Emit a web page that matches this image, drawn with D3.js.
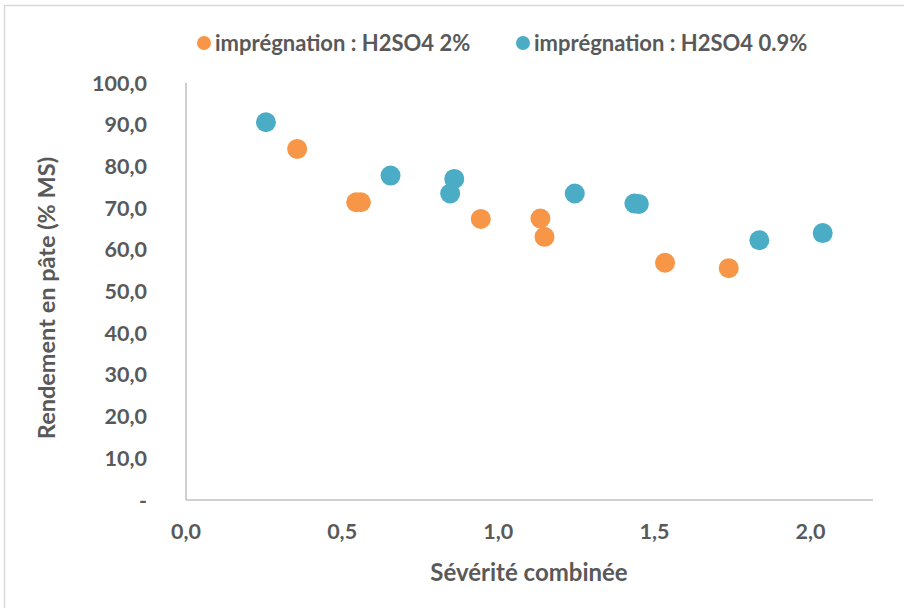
<!DOCTYPE html>
<html>
<head>
<meta charset="utf-8">
<script src="https://cdn.jsdelivr.net/npm/d3@7"></script>
<style>
  body { margin: 0; background: #fff; }
  text { font-family: Lato, "Open Sans", sans-serif; font-weight: bold; fill: #595959; }
</style>
</head>
<body>
<svg id="chart" width="904" height="608"></svg>
<script>
// series: combined severity (x) vs pulp yield % DM (y)
const seriesNames = ["imprégnation : H2SO4 2%", "imprégnation : H2SO4 0.9%"]
const seriesColors = ["#F79646", "#4BACC6"]

const acid2X = [0.356, 0.545, 0.560, 0.944, 1.135, 1.148, 1.534, 1.738]
const acid2Y = [84.2, 71.4, 71.4, 67.4, 67.5, 63.1, 56.9, 55.6]

const acid09X = [0.256, 0.655, 0.859, 0.846, 1.245, 1.436, 1.450, 1.836, 2.039]
const acid09Y = [90.6, 77.8, 77.0, 73.5, 73.5, 71.1, 71.0, 62.3, 64.0]

const xTicks = [0, 0.5, 1.0, 1.5, 2.0]
const yTicks = [0, 10, 20, 30, 40, 50, 60, 70, 80, 90, 100]

const svg = d3.select('#chart')

// outer frame
svg.append('rect')
    .attr('x', 4.5).attr('y', 5.5)
    .attr('width', 920).attr('height', 620)
    .attr('fill', 'none')
    .attr('stroke', '#D9D9D9')
    .attr('stroke-width', 1.5)

const plotLeft = 186, plotRight = 873, plotTop = 83, plotBottom = 500

const x = d3.scaleLinear().domain([0, 2.2]).range([plotLeft, plotRight])
const y = d3.scaleLinear().domain([0, 100]).range([plotBottom, plotTop])

const fmt = v => d3.format('.1f')(v).replace('.', ',')

// axes lines
svg.append('line')
    .attr('x1', plotLeft).attr('x2', plotLeft)
    .attr('y1', plotTop).attr('y2', plotBottom)
    .attr('stroke', '#BFBFBF').attr('stroke-width', 1.5)
svg.append('line')
    .attr('x1', plotLeft).attr('x2', plotRight)
    .attr('y1', plotBottom).attr('y2', plotBottom)
    .attr('stroke', '#BFBFBF').attr('stroke-width', 1.5)

// y tick labels
svg.selectAll('.ytick')
    .data(yTicks)
    .enter().append('text')
    .attr('class', 'ytick')
    .attr('x', 147)
    .attr('y', d => y(d))
    .attr('dy', '0.35em')
    .attr('text-anchor', 'end')
    .style('font-size', '21.5px')
    .text(d => d === 0 ? '-' : fmt(d))

// x tick labels
svg.selectAll('.xtick')
    .data(xTicks)
    .enter().append('text')
    .attr('class', 'xtick')
    .attr('x', d => x(d))
    .attr('y', 531)
    .attr('dy', '0.35em')
    .attr('text-anchor', 'middle')
    .style('font-size', '21.5px')
    .text(d => fmt(d))

// axis titles
svg.append('text')
    .attr('x', 529)
    .attr('y', 573)
    .attr('dy', '0.35em')
    .attr('text-anchor', 'middle')
    .style('font-size', '24px')
    .text('Sévérité combinée')

svg.append('text')
    .attr('transform', 'translate(47,298) rotate(-90)')
    .attr('dy', '0.35em')
    .attr('text-anchor', 'middle')
    .style('font-size', '23.5px')
    .text('Rendement en pâte (% MS)')

// points
const series = [
    {name: seriesNames[0], color: seriesColors[0], xs: acid2X, ys: acid2Y},
    {name: seriesNames[1], color: seriesColors[1], xs: acid09X, ys: acid09Y}
]

series.forEach(s => {
    svg.append('g')
        .selectAll('circle')
        .data(s.xs.map((v, i) => [v, s.ys[i]]))
        .enter().append('circle')
        .attr('cx', d => x(d[0]))
        .attr('cy', d => y(d[1]))
        .attr('r', 10)
        .attr('fill', s.color)
})

// legend
const legendX = [204, 523]
series.forEach((s, i) => {
    svg.append('circle')
        .attr('cx', legendX[i]).attr('cy', 43)
        .attr('r', 7)
        .attr('fill', s.color)
    svg.append('text')
        .attr('x', legendX[i] + 11)
        .attr('y', 43)
        .attr('dy', '0.35em')
        .style('font-size', '22px')
        .text(s.name)
})
</script>
</body>
</html>
